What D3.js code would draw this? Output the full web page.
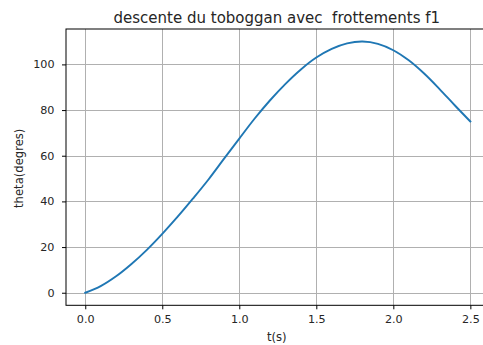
<!DOCTYPE html>
<html>
<head>
<meta charset="utf-8">
<script src="https://cdn.jsdelivr.net/npm/d3@7"></script>
<style>
  html, body { margin: 0; padding: 0; background: #fff; overflow: hidden; }
  svg { display: block; }
  text { font-family: "DejaVu Sans", sans-serif; fill: #262626; }
</style>
</head>
<body>
<svg id="chart" width="483" height="345"></svg>
<script>
// Time samples (s) and angle of the slide (degrees), with friction f1
const times  = [0.0, 0.1, 0.2, 0.3, 0.4, 0.5, 0.6, 0.7, 0.8, 0.9, 1.0, 1.1, 1.2, 1.3,
                1.4, 1.5, 1.6, 1.7, 1.8, 1.9, 2.0, 2.1, 2.2, 2.3, 2.4, 2.5];
const theta  = [0.0, 2.9, 7.2, 12.6, 18.8, 25.8, 33.3, 41.3, 49.6, 58.6, 67.5, 76.3, 84.3, 91.5,
                97.8, 103.0, 106.8, 109.2, 110.0, 109.0, 106.2, 101.8, 96.0, 89.2, 82.0, 75.0];
const xTicks = [0.0, 0.5, 1.0, 1.5, 2.0, 2.5];
const yTicks = [0, 20, 40, 60, 80, 100];
const titleText = "descente du toboggan avec  frottements f1";
const xLabel = "t(s)";
const yLabel = "theta(degres)";

const svg = d3.select("#chart");
const plot = { left: 66, top: 29, right: 489.6, bottom: 305.3 };

const x = d3.scaleLinear().domain([-0.125, 2.625]).range([plot.left, plot.right]);
const y = d3.scaleLinear().domain([-5.5, 115.5]).range([plot.bottom, plot.top]);

// grid
const grid = svg.append("g").attr("stroke", "#b0b0b0").attr("stroke-width", 1);
grid.selectAll("line.gx").data(xTicks).join("line")
  .attr("x1", d => Math.round(x(d)) + 0.5).attr("x2", d => Math.round(x(d)) + 0.5)
  .attr("y1", plot.top).attr("y2", plot.bottom);
grid.selectAll("line.gy").data(yTicks).join("line")
  .attr("y1", d => Math.round(y(d)) + 0.5).attr("y2", d => Math.round(y(d)) + 0.5)
  .attr("x1", plot.left).attr("x2", plot.right);

// curve
const line = d3.line()
  .x((d, i) => x(times[i]))
  .y(d => y(d))
  .curve(d3.curveCatmullRom.alpha(0.5));
svg.append("path")
  .datum(theta)
  .attr("d", line)
  .attr("fill", "none")
  .attr("stroke", "#1f77b4")
  .attr("stroke-width", 1.9)
  .attr("stroke-linecap", "square");

// axes
const xAxis = d3.axisBottom(x).tickValues(xTicks).tickFormat(d3.format(".1f")).tickSize(4).tickPadding(6);
const yAxis = d3.axisLeft(y).tickValues(yTicks).tickFormat(d3.format("d")).tickSize(4).tickPadding(7.5);

const gx = svg.append("g").attr("transform", `translate(0,${plot.bottom})`).call(xAxis);
const gy = svg.append("g").attr("transform", `translate(${plot.left},0)`).call(yAxis);
[gx, gy].forEach(g => {
  g.select(".domain").remove();
  g.selectAll(".tick line").attr("stroke", "#000").attr("stroke-width", 1);
  g.selectAll(".tick text").attr("font-size", 11.2).attr("font-family", "DejaVu Sans").attr("fill", "#262626");
});

// frame
svg.append("rect")
  .attr("x", plot.left).attr("y", plot.top)
  .attr("width", plot.right - plot.left).attr("height", plot.bottom - plot.top)
  .attr("fill", "none").attr("stroke", "#000").attr("stroke-width", 1);

// labels
svg.append("text")
  .attr("x", (plot.left + plot.right) / 2 - 1).attr("y", 22.7)
  .attr("text-anchor", "middle").attr("font-size", 15)
  .style("white-space", "pre")
  .text(titleText);
svg.append("text")
  .attr("x", 276.7).attr("y", 341)
  .attr("text-anchor", "middle").attr("font-size", 11.6)
  .text(xLabel);
svg.append("text")
  .attr("transform", `translate(23,168.3) rotate(-90)`)
  .attr("text-anchor", "middle").attr("font-size", 11.6)
  .text(yLabel);
</script>
</body>
</html>
